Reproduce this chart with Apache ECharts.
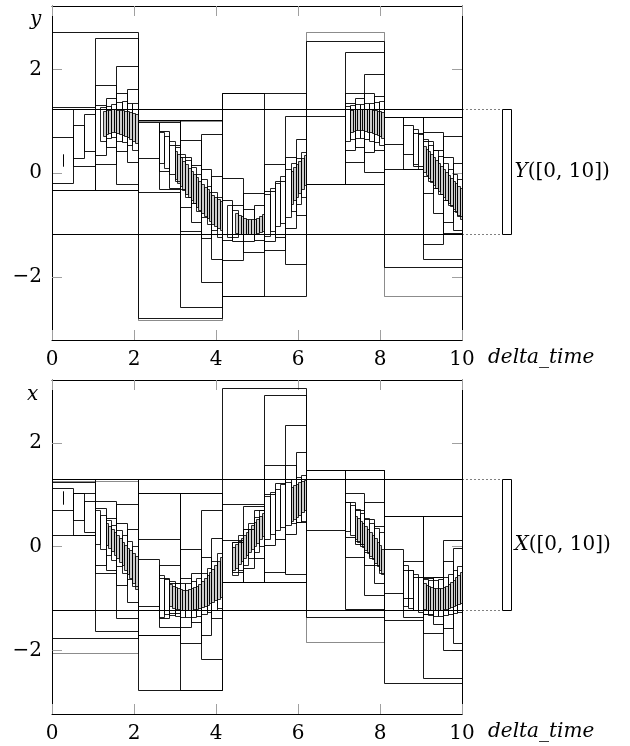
<!DOCTYPE html>
<html>
<head>
<meta charset="utf-8">
<script src="https://cdn.jsdelivr.net/npm/echarts@6/dist/echarts.min.js"></script>
<style>
html, body { margin: 0; padding: 0; background: #fff; }
#tubeChart { width: 630px; height: 746px; }
</style>
</head>
<body>
<div id="tubeChart"></div>
<script>
// ticks
const timeTicks = [0, 2, 4, 6, 8, 10];
const valueTicks = [-2, 0, 2];

// every box is [t0, t1, lo, hi]
// ---- y tube (top panel) ----
const yRange = [-1.17, 1.24]; // Y([0,10])
const yCoarse = [
    [0, 2.09, -0.32, 2.71], [0, 1.045, -0.32, 1.27], [1.045, 2.09, -0.32, 2.60],
    [0, 0.52, -0.19, 0.69], [0.52, 1.045, 0.14, 1.23], [1.045, 1.57, 0.18, 1.69], [1.57, 2.09, -0.21, 2.07],
    [0.26, 0.26, 0.14, 0.38],
    [0.52, 0.79, 0.29, 0.93], [0.79, 1.045, 0.43, 1.15], [1.045, 1.31, 0.35, 1.32], [1.31, 1.57, 0.51, 1.44],
    [1.57, 1.83, 0.42, 1.55], [1.83, 2.09, 0.21, 1.62],

    [2.09, 4.15, -2.78, 1.02], [2.09, 3.12, -0.37, 1.02], [3.12, 4.15, -2.58, 1.02],
    [2.09, 2.60, 0.30, 0.99], [2.60, 3.12, -0.30, 0.99], [3.12, 3.64, -1.11, 0.64], [3.64, 4.15, -2.10, 0.76],
    [2.60, 2.86, 0.05, 0.81], [2.86, 3.12, -0.28, 0.55], [3.12, 3.38, -0.65, 0.32], [3.38, 3.64, -0.93, 0.15],
    [3.64, 3.89, -1.25, 0.09], [3.89, 4.15, -1.65, -0.05],

    [4.15, 6.20, -2.37, 1.54], [4.15, 5.18, -2.37, 1.54],
    [4.15, 4.66, -1.67, -0.10], [4.66, 5.18, -1.52, -0.38], [5.18, 5.69, -1.47, 0.18], [5.69, 6.20, -1.75, 1.11],
    [4.15, 4.40, -1.28, -0.52], [4.40, 4.66, -1.30, -0.62], [4.66, 4.92, -1.30, -0.68], [4.92, 5.18, -1.28, -0.62],
    [5.18, 5.43, -1.30, -0.35], [5.43, 5.69, -1.22, -0.15], [5.69, 5.95, -1.05, 0.32], [5.95, 6.20, -0.80, 0.66],

    [6.20, 8.09, -0.20, 2.55], [6.20, 7.15, -0.20, 1.11], [7.15, 8.09, -0.20, 2.34],
    [7.15, 7.62, 0.21, 1.55], [7.62, 8.09, 0.03, 1.91],
    [7.15, 7.39, 0.45, 1.36], [7.39, 7.62, 0.50, 1.45], [7.62, 7.86, 0.40, 1.55], [7.86, 8.09, 0.45, 1.48],

    [8.09, 10, -1.80, 1.09], [8.09, 9.05, 0.09, 1.09], [9.05, 10, -1.65, 1.09],
    [8.09, 8.57, 0.57, 1.09], [8.57, 9.05, 0.09, 1.08], [9.05, 9.53, -1.36, 0.80], [9.53, 10, -1.15, 0.72],
    [8.57, 8.81, 0.38, 0.93], [8.81, 9.05, 0.14, 0.77], [9.05, 9.29, -0.38, 0.62], [9.29, 9.53, -0.76, 0.45],
    [9.53, 9.77, -0.94, 0.32], [9.77, 10, -1.09, 0.19]
];
const yGhost = [
    [2.09, 4.15, -2.82, 1.00], [6.20, 8.09, -0.20, 2.71], [8.09, 10, -2.36, 1.09]
];
const yMid = [
    [1.18, 1.31, 0.62, 1.27], [1.31, 1.44, 0.68, 1.30], [1.44, 1.57, 0.70, 1.33], [1.57, 1.70, 0.62, 1.38],
    [1.70, 1.83, 0.60, 1.40], [1.83, 1.96, 0.55, 1.36], [1.96, 2.09, 0.45, 1.35],

    [2.60, 2.73, 0.20, 0.80], [2.73, 2.86, 0.10, 0.72], [2.86, 2.99, -0.02, 0.62], [2.99, 3.12, -0.15, 0.50],
    [3.12, 3.25, -0.30, 0.38], [3.25, 3.38, -0.45, 0.25], [3.38, 3.51, -0.58, 0.12], [3.51, 3.64, -0.72, -0.02],
    [3.64, 3.77, -0.85, -0.12], [3.77, 3.89, -0.98, -0.24], [3.89, 4.02, -1.10, -0.36], [4.02, 4.15, -1.22, -0.45],

    [4.28, 4.40, -1.22, -0.62], [4.40, 4.53, -1.22, -0.70],
    [5.18, 5.31, -1.20, -0.40], [5.31, 5.43, -1.12, -0.28], [5.43, 5.56, -1.02, -0.18], [5.56, 5.69, -0.95, -0.05],
    [5.69, 5.82, -0.85, 0.08], [5.82, 5.95, -0.72, 0.20], [5.95, 6.07, -0.60, 0.30], [6.07, 6.20, -0.45, 0.40],

    [7.15, 7.27, 0.62, 1.30], [7.27, 7.39, 0.66, 1.32], [7.39, 7.51, 0.68, 1.33], [7.51, 7.62, 0.68, 1.34],
    [7.62, 7.74, 0.66, 1.35], [7.74, 7.86, 0.63, 1.36], [7.86, 7.97, 0.60, 1.38], [7.97, 8.09, 0.55, 1.40],

    [8.81, 8.93, 0.18, 0.85], [8.93, 9.05, 0.08, 0.75], [9.05, 9.17, -0.05, 0.66], [9.17, 9.29, -0.15, 0.55],
    [9.29, 9.41, -0.28, 0.45], [9.41, 9.53, -0.40, 0.33], [9.53, 9.65, -0.52, 0.20], [9.65, 9.77, -0.62, 0.08],
    [9.77, 9.89, -0.72, -0.02], [9.89, 10, -0.82, -0.12]
];
const yFine = [
    [1.24, 1.31, 0.72, 1.20], [1.31, 1.37, 0.76, 1.22], [1.37, 1.44, 0.78, 1.22], [1.44, 1.50, 0.80, 1.23],
    [1.50, 1.57, 0.80, 1.23], [1.57, 1.63, 0.78, 1.22], [1.63, 1.70, 0.76, 1.22], [1.70, 1.76, 0.74, 1.21],
    [1.76, 1.83, 0.71, 1.20], [1.83, 1.89, 0.69, 1.19], [1.89, 1.96, 0.66, 1.18], [1.96, 2.02, 0.62, 1.16],
    [2.02, 2.09, 0.58, 1.15],

    [2.99, 3.05, -0.12, 0.42], [3.05, 3.12, -0.18, 0.37], [3.12, 3.18, -0.25, 0.31], [3.18, 3.25, -0.32, 0.24],
    [3.25, 3.31, -0.39, 0.18], [3.31, 3.38, -0.45, 0.11], [3.38, 3.44, -0.52, 0.05], [3.44, 3.51, -0.58, -0.02],
    [3.51, 3.57, -0.64, -0.08], [3.57, 3.64, -0.70, -0.14], [3.64, 3.70, -0.76, -0.20], [3.70, 3.77, -0.82, -0.26],
    [3.77, 3.83, -0.87, -0.31], [3.83, 3.89, -0.92, -0.36], [3.89, 3.96, -0.97, -0.41], [3.96, 4.02, -1.02, -0.45],
    [4.02, 4.09, -1.06, -0.49], [4.09, 4.15, -1.10, -0.53],

    [4.47, 4.53, -1.15, -0.76], [4.53, 4.60, -1.16, -0.80], [4.60, 4.66, -1.17, -0.83], [4.66, 4.72, -1.17, -0.86],
    [4.72, 4.79, -1.17, -0.88], [4.79, 4.85, -1.17, -0.89], [4.85, 4.92, -1.17, -0.89], [4.92, 4.98, -1.16, -0.88],
    [4.98, 5.05, -1.15, -0.86], [5.05, 5.11, -1.14, -0.83], [5.11, 5.18, -1.12, -0.79],
    [5.82, 5.88, -0.60, 0.05], [5.88, 5.95, -0.52, 0.12], [5.95, 6.01, -0.45, 0.18], [6.01, 6.07, -0.38, 0.24],
    [6.07, 6.14, -0.30, 0.30], [6.14, 6.20, -0.22, 0.35],

    [7.27, 7.33, 0.80, 1.22], [7.33, 7.39, 0.82, 1.23], [7.39, 7.45, 0.83, 1.23], [7.45, 7.51, 0.84, 1.24],
    [7.51, 7.57, 0.84, 1.24], [7.57, 7.62, 0.83, 1.24], [7.62, 7.68, 0.82, 1.24], [7.68, 7.74, 0.80, 1.23],
    [7.74, 7.80, 0.79, 1.23], [7.80, 7.86, 0.77, 1.22], [7.86, 7.92, 0.75, 1.21], [7.92, 7.97, 0.73, 1.20],
    [7.97, 8.03, 0.71, 1.19], [8.03, 8.09, 0.68, 1.18],

    [9.05, 9.11, 0.02, 0.52], [9.11, 9.17, -0.04, 0.47], [9.17, 9.23, -0.10, 0.42], [9.23, 9.29, -0.16, 0.37],
    [9.29, 9.35, -0.22, 0.31], [9.35, 9.41, -0.28, 0.26], [9.41, 9.47, -0.34, 0.20], [9.47, 9.53, -0.40, 0.14],
    [9.53, 9.59, -0.46, 0.08], [9.59, 9.65, -0.52, 0.02], [9.65, 9.71, -0.58, -0.04], [9.71, 9.77, -0.63, -0.09],
    [9.77, 9.83, -0.69, -0.14], [9.83, 9.89, -0.75, -0.19], [9.89, 9.94, -0.81, -0.24], [9.94, 10, -0.88, -0.28]
];

// ---- x tube (bottom panel) ----
const xRange = [-1.22, 1.30]; // X([0,10])
const xCoarse = [
    [0, 2.09, -1.75, 1.31], [0, 1.045, 0.22, 1.25], [1.045, 2.09, -1.63, 1.31],
    [0, 0.52, 0.70, 1.14], [0.26, 0.26, 0.83, 1.07], [0.52, 1.045, 0.23, 1.04],
    [1.045, 1.57, -0.50, 0.89], [1.57, 2.09, -1.37, 0.83],
    [0.52, 0.79, 0.51, 1.04], [0.79, 1.045, 0.28, 0.89], [1.045, 1.31, -0.35, 0.75], [1.31, 1.57, -0.45, 0.55],
    [1.57, 1.83, -0.74, 0.45], [1.83, 2.09, -1.06, 0.35],

    [2.09, 4.15, -2.76, 1.04], [2.09, 3.12, -1.69, 1.04], [3.12, 4.15, -2.76, 1.04],
    [2.09, 3.12, -1.69, 0.14], [2.09, 2.60, -1.15, -0.24], [2.60, 3.12, -1.54, -0.35],
    [3.12, 3.64, -1.86, -0.05], [3.64, 4.15, -2.16, 0.71],
    [2.60, 2.86, -1.38, -0.61], [2.86, 3.12, -1.28, -0.70], [3.12, 3.38, -1.54, -0.60], [3.38, 3.64, -1.45, -0.50],
    [3.64, 3.89, -1.69, -0.20], [3.89, 4.15, -1.38, 0.17],

    [4.15, 6.20, -0.67, 3.05], [4.15, 5.18, -0.67, 0.83], [5.18, 6.20, -0.67, 2.93],
    [4.15, 4.66, -0.67, 0.13], [4.66, 5.18, -0.67, 0.79], [5.18, 5.69, -0.48, 1.58], [5.69, 6.20, -0.53, 2.34],
    [4.40, 4.66, -0.48, 0.10], [4.66, 4.92, -0.40, 0.35], [4.92, 5.18, -0.22, 0.71], [5.18, 5.43, 0.04, 1.02],
    [5.43, 5.69, 0.14, 1.22], [5.69, 5.95, 0.25, 1.58], [5.95, 6.20, 0.47, 1.83],

    [6.20, 8.09, -1.35, 1.47], [6.20, 7.15, 0.32, 1.47], [7.15, 8.09, -1.19, 1.47],
    [7.15, 7.62, -0.19, 1.03], [7.62, 8.09, -0.92, 0.86],
    [7.15, 7.39, 0.19, 0.86], [7.39, 7.62, 0.05, 0.70], [7.62, 7.86, -0.35, 0.54], [7.86, 8.09, -0.70, 0.40],

    [8.09, 10, -2.63, 0.60], [8.09, 9.05, -1.41, 0.60], [9.05, 10, -2.53, 0.60],
    [8.09, 8.57, -0.90, -0.05], [8.57, 9.05, -1.35, -0.27], [9.05, 9.53, -1.67, -0.58], [9.53, 10, -1.99, 0.13],
    [8.57, 8.81, -0.98, -0.45], [8.81, 9.05, -1.22, -0.58], [9.05, 9.29, -1.30, -0.60], [9.29, 9.53, -1.49, -0.58],
    [9.53, 9.77, -1.56, -0.27], [9.77, 10, -1.85, -0.03]
];
const xGhost = [
    [0, 2.09, -2.04, 1.27], [6.20, 8.09, -1.83, 1.47]
];
const xMid = [
    [1.045, 1.18, 0.05, 0.70], [1.18, 1.31, -0.05, 0.62], [1.31, 1.44, -0.15, 0.52], [1.44, 1.57, -0.25, 0.42],
    [1.57, 1.70, -0.38, 0.32], [1.70, 1.83, -0.50, 0.22], [1.83, 1.96, -0.62, 0.12], [1.96, 2.09, -0.75, 0.02],

    [2.60, 2.73, -1.35, -0.55], [2.73, 2.86, -1.30, -0.62], [2.86, 2.99, -1.32, -0.66], [2.99, 3.12, -1.34, -0.70],
    [3.12, 3.25, -1.35, -0.70], [3.25, 3.38, -1.36, -0.70], [3.38, 3.51, -1.35, -0.66], [3.51, 3.64, -1.33, -0.60],
    [3.64, 3.77, -1.30, -0.50], [3.77, 3.89, -1.26, -0.40], [3.89, 4.02, -1.22, -0.28], [4.02, 4.15, -1.18, -0.12],

    [4.40, 4.53, -0.55, 0.10], [4.53, 4.66, -0.45, 0.22], [4.66, 4.79, -0.35, 0.35], [4.79, 4.92, -0.22, 0.45],
    [4.92, 5.05, -0.10, 0.58], [5.05, 5.18, 0.02, 0.70],
    [5.18, 5.31, 0.15, 0.98], [5.31, 5.43, 0.25, 1.05], [5.43, 5.56, 0.32, 1.12], [5.56, 5.69, 0.38, 1.20],
    [5.69, 5.82, 0.42, 1.25], [5.82, 5.95, 0.45, 1.30], [5.95, 6.07, 0.48, 1.34], [6.07, 6.20, 0.50, 1.38],

    [7.15, 7.27, 0.30, 0.86], [7.27, 7.39, 0.22, 0.80], [7.39, 7.51, 0.12, 0.72], [7.51, 7.62, 0.02, 0.64],
    [7.62, 7.74, -0.10, 0.55], [7.74, 7.86, -0.22, 0.46], [7.86, 7.97, -0.36, 0.37], [7.97, 8.09, -0.50, 0.28],

    [8.57, 8.69, -1.15, -0.35], [8.69, 8.81, -1.18, -0.45], [8.81, 8.93, -1.22, -0.52], [8.93, 9.05, -1.25, -0.58],
    [9.05, 9.17, -1.30, -0.62], [9.17, 9.29, -1.32, -0.64], [9.29, 9.41, -1.33, -0.64], [9.41, 9.53, -1.33, -0.62],
    [9.53, 9.65, -1.32, -0.58], [9.65, 9.77, -1.30, -0.52], [9.77, 9.89, -1.28, -0.45], [9.89, 10, -1.25, -0.38]
];
const xFine = [
    [1.31, 1.37, 0.03, 0.45], [1.37, 1.44, -0.03, 0.40], [1.44, 1.50, -0.09, 0.34], [1.50, 1.57, -0.15, 0.28],
    [1.57, 1.63, -0.22, 0.22], [1.63, 1.70, -0.29, 0.16], [1.70, 1.76, -0.36, 0.10], [1.76, 1.83, -0.44, 0.04],
    [1.83, 1.89, -0.52, -0.02], [1.89, 1.96, -0.60, -0.07], [1.96, 2.02, -0.70, -0.12], [2.02, 2.09, -0.82, -0.17],

    [2.86, 2.92, -1.15, -0.72], [2.92, 2.99, -1.17, -0.75], [2.99, 3.05, -1.19, -0.78], [3.05, 3.12, -1.20, -0.80],
    [3.12, 3.18, -1.21, -0.82], [3.18, 3.25, -1.22, -0.83], [3.25, 3.31, -1.22, -0.83], [3.31, 3.38, -1.22, -0.82],
    [3.38, 3.44, -1.21, -0.80], [3.44, 3.51, -1.20, -0.78], [3.51, 3.57, -1.19, -0.75], [3.57, 3.64, -1.18, -0.71],
    [3.64, 3.70, -1.16, -0.66], [3.70, 3.77, -1.14, -0.61], [3.77, 3.83, -1.12, -0.55], [3.83, 3.89, -1.09, -0.49],
    [3.89, 3.96, -1.06, -0.42], [3.96, 4.02, -1.03, -0.35], [4.02, 4.09, -1.00, -0.28], [4.09, 4.15, -0.96, -0.20],

    [4.40, 4.47, -0.45, 0.00], [4.47, 4.53, -0.40, 0.05], [4.53, 4.60, -0.34, 0.11], [4.60, 4.66, -0.28, 0.17],
    [4.66, 4.72, -0.22, 0.23], [4.72, 4.79, -0.16, 0.29], [4.79, 4.85, -0.10, 0.35], [4.85, 4.92, -0.04, 0.41],
    [4.92, 4.98, 0.02, 0.47], [4.98, 5.05, 0.08, 0.53], [5.05, 5.11, 0.14, 0.59], [5.11, 5.18, 0.20, 0.65],
    [5.82, 5.88, 0.50, 1.15], [5.88, 5.95, 0.54, 1.18], [5.95, 6.01, 0.58, 1.21], [6.01, 6.07, 0.62, 1.24],
    [6.07, 6.14, 0.66, 1.26], [6.14, 6.20, 0.70, 1.28],

    [7.39, 7.45, 0.15, 0.60], [7.45, 7.51, 0.10, 0.55], [7.51, 7.57, 0.05, 0.50], [7.57, 7.62, 0.00, 0.45],
    [7.62, 7.68, -0.06, 0.40], [7.68, 7.74, -0.12, 0.34], [7.74, 7.80, -0.18, 0.28], [7.80, 7.86, -0.24, 0.22],
    [7.86, 7.92, -0.31, 0.16], [7.92, 7.97, -0.38, 0.10], [7.97, 8.03, -0.45, 0.03], [8.03, 8.09, -0.52, -0.04],

    [9.05, 9.11, -1.20, -0.70], [9.11, 9.17, -1.21, -0.73], [9.17, 9.23, -1.22, -0.76], [9.23, 9.29, -1.22, -0.78],
    [9.29, 9.35, -1.22, -0.79], [9.35, 9.41, -1.22, -0.80], [9.41, 9.47, -1.22, -0.80], [9.47, 9.53, -1.21, -0.79],
    [9.53, 9.59, -1.20, -0.77], [9.59, 9.65, -1.19, -0.75], [9.65, 9.71, -1.18, -0.72], [9.71, 9.77, -1.16, -0.68],
    [9.77, 9.83, -1.14, -0.64], [9.83, 9.89, -1.12, -0.59], [9.89, 9.94, -1.10, -0.54], [9.94, 10, -1.08, -0.48]
];

const serif = '"DejaVu Serif", "Liberation Serif", serif';
const myChart = echarts.init(document.getElementById('tubeChart'), null, { renderer: 'canvas' });

function px(v) { // crisp 1px lines
    return Math.round(v) + 0.5;
}

function boxSeries(data, axis, stroke, fill) {
    return {
        type: 'custom',
        xAxisIndex: axis * 2,
        yAxisIndex: axis * 2,
        encode: { x: [0, 1], y: [2, 3] },
        silent: true,
        clip: false,
        renderItem: (params, api) => {
            let p0 = api.coord([api.value(0), api.value(3)]);
            let p1 = api.coord([api.value(1), api.value(2)]);
            let x0 = px(p0[0]), x1 = px(p1[0]), y0 = px(p0[1]), y1 = px(p1[1]);
            return {
                type: 'rect',
                shape: { x: x0, y: y0, width: x1 - x0, height: y1 - y0 },
                style: { fill: fill, stroke: stroke, lineWidth: 1 }
            };
        },
        data: data
    };
}

function rangeSeries(range, axis, name) {// enclosure of the whole tube, drawn right of the plot
    return {
        type: 'custom',
        xAxisIndex: axis * 2,
        yAxisIndex: axis * 2,
        encode: { x: [0, 1], y: [2, 3] },
        silent: true,
        clip: false,
        renderItem: (params, api) => {
            let top = api.coord([api.value(1), api.value(3)]);
            let bot = api.coord([api.value(1), api.value(2)]);
            let left = px(api.coord([api.value(0), 0])[0]);
            let x = px(top[0]), yt = px(top[1]), yb = px(bot[1]);
            return {
                type: 'group',
                children: [
                    { type: 'rect', shape: { x: left, y: yt, width: x - left, height: yb - yt },
                      style: { fill: 'none', stroke: '#000', lineWidth: 1 } },
                    { type: 'line', shape: { x1: x, y1: yt, x2: x + 39, y2: yt },
                      style: { stroke: '#000', lineWidth: 1, lineDash: [1, 3] } },
                    { type: 'line', shape: { x1: x, y1: yb, x2: x + 39, y2: yb },
                      style: { stroke: '#000', lineWidth: 1, lineDash: [1, 3] } },
                    { type: 'rect', shape: { x: x + 40, y: yt, width: 9, height: yb - yt },
                      style: { fill: '#fff', stroke: '#000', lineWidth: 1 } },
                    { type: 'text', style: {
                        text: '{i|' + name + '}([0, 10])',
                        x: x + 52, y: (yt + yb) / 2,
                        verticalAlign: 'middle',
                        fontFamily: serif, fontSize: 20, fill: '#000',
                        rich: { i: { fontStyle: 'italic', fontFamily: serif, fontSize: 20 } }
                    } }
                ]
            };
        },
        data: [[0, 10, range[0], range[1]]]
    };
}

function timeAxis(grid, position, showLabel) {
    return {
        type: 'value', gridIndex: grid, position: position,
        min: 0, max: 10, interval: 2,
        axisLine: { show: true, onZero: false, lineStyle: { color: '#000', width: 1 } },
        axisTick: { show: true, inside: true, length: 10, lineStyle: { color: '#a0a0a0' } },
        axisLabel: { show: showLabel, color: '#000', fontFamily: serif, fontSize: 20, margin: 10 },
        splitLine: { show: false }
    };
}

function valueAxis(grid, position, showLabel, min, max) {
    return {
        type: 'value', gridIndex: grid, position: position,
        min: min, max: max,
        axisLine: { show: true, onZero: false, lineStyle: { color: '#000', width: 1 } },
        axisTick: { show: true, inside: true, length: 10, customValues: valueTicks, lineStyle: { color: '#a0a0a0' } },
        axisLabel: {
            show: showLabel, customValues: valueTicks, color: '#000', fontFamily: serif, fontSize: 20, margin: 10,
            formatter: v => v < 0 ? '\u2212' + Math.abs(v) : String(v)
        },
        splitLine: { show: false }
    };
}

let option = {
    animation: false,
    backgroundColor: '#fff',
    grid: [
        { left: 52, top: 6, width: 410, height: 334 },
        { left: 52, top: 380, width: 410, height: 334 }
    ],
    xAxis: [
        timeAxis(0, 'bottom', true), timeAxis(0, 'top', false),
        timeAxis(1, 'bottom', true), timeAxis(1, 'top', false)
    ],
    yAxis: [
        valueAxis(0, 'left', true, -3.21, 3.22), valueAxis(0, 'right', false, -3.21, 3.22),
        valueAxis(1, 'left', true, -3.22, 3.21), valueAxis(1, 'right', false, -3.22, 3.21)
    ],
    graphic: [
        { type: 'text', left: 30, top: 10, style: { text: 'y', fontFamily: serif, fontStyle: 'italic', fontSize: 20, fill: '#000' } },
        { type: 'text', left: 27, top: 385, style: { text: 'x', fontFamily: serif, fontStyle: 'italic', fontSize: 20, fill: '#000' } },
        { type: 'text', left: 488, top: 348, style: { text: 'delta_time', fontFamily: serif, fontStyle: 'italic', fontSize: 20, fill: '#000' } },
        { type: 'text', left: 488, top: 722, style: { text: 'delta_time', fontFamily: serif, fontStyle: 'italic', fontSize: 20, fill: '#000' } }
    ],
    series: [
        boxSeries(yGhost, 0, 'rgba(0,0,0,0.45)', 'none'),
        boxSeries(yCoarse, 0, 'rgba(0,0,0,0.9)', 'none'),
        boxSeries(yMid, 0, 'rgba(0,0,0,0.85)', 'none'),
        boxSeries(yFine, 0, 'rgba(0,0,0,0.8)', 'rgba(0,0,0,0.2)'),
        rangeSeries(yRange, 0, 'Y'),
        boxSeries(xGhost, 1, 'rgba(0,0,0,0.45)', 'none'),
        boxSeries(xCoarse, 1, 'rgba(0,0,0,0.9)', 'none'),
        boxSeries(xMid, 1, 'rgba(0,0,0,0.85)', 'none'),
        boxSeries(xFine, 1, 'rgba(0,0,0,0.8)', 'rgba(0,0,0,0.2)'),
        rangeSeries(xRange, 1, 'X')
    ]
};
myChart.setOption(option);
</script>
</body>
</html>
